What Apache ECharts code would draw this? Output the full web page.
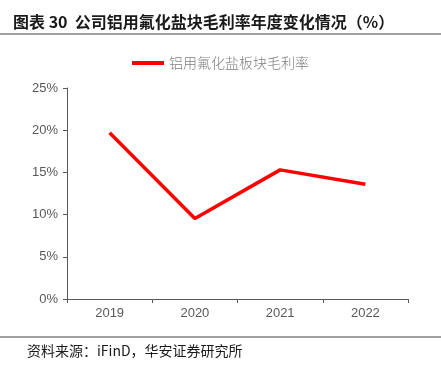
<!DOCTYPE html>
<html>
<head>
<meta charset="utf-8">
<script src="https://cdn.jsdelivr.net/npm/echarts@6/dist/echarts.min.js"></script>
<style>
  html, body { margin: 0; padding: 0; background: #fff; }
  #main { width: 441px; height: 368px; }
</style>
</head>
<body>
<div id="main"></div>
<script>
var years = ["2019", "2020", "2021", "2022"];
var grossMargin = [19.7, 9.55, 15.3, 13.6];
var seriesName = "铝用氟化盐板块毛利率";
var yTicks = [0, 25, 5];

var myChart = echarts.init(document.getElementById("main"));
var cjk = "'Noto Sans CJK SC', sans-serif";
var latin = "'Liberation Sans', Arial, sans-serif";

var option = {
  animation: false,
  backgroundColor: "#fff",
  title: [
    {
      text: "图表 30  公司铝用氟化盐块毛利率年度变化情况（%）",
      left: 13,
      top: 14,
      padding: 0,
      textStyle: { fontFamily: cjk, fontSize: 16, fontWeight: "bold", color: "#1a1a1a" }
    },
    {
      text: "资料来源：iFinD，华安证券研究所",
      left: 27,
      top: 344,
      padding: 0,
      textStyle: { fontFamily: cjk, fontSize: 14, fontWeight: "normal", color: "#1a1a1a" }
    }
  ],
  graphic: [
    { type: "line", shape: { x1: 0, y1: 34, x2: 441, y2: 34 }, style: { stroke: "#404040", lineWidth: 1 } },
    { type: "line", shape: { x1: 0, y1: 337, x2: 441, y2: 337 }, style: { stroke: "#404040", lineWidth: 1 } }
  ],
  legend: {
    top: 51,
    left: "center",
    itemWidth: 32,
    itemHeight: 4,
    itemGap: 6,
    icon: "rect",
    textStyle: { fontFamily: cjk, fontSize: 14, color: "#7f7f7f", fontWeight: 300 },
    data: [seriesName]
  },
  grid: { left: 67, right: 33, top: 88, bottom: 69 },
  xAxis: {
    type: "category",
    data: years,
    boundaryGap: true,
    axisLine: { lineStyle: { color: "#595959", width: 1 } },
    axisTick: { show: true, length: 4, lineStyle: { color: "#595959" } },
    axisLabel: { fontFamily: latin, fontSize: 13, color: "#595959", margin: 8 }
  },
  yAxis: {
    type: "value",
    min: yTicks[0],
    max: yTicks[1],
    interval: yTicks[2],
    axisLine: { show: true, lineStyle: { color: "#595959", width: 1 } },
    axisTick: { show: true, length: 4, lineStyle: { color: "#595959" } },
    splitLine: { show: false },
    axisLabel: {
      fontFamily: latin, fontSize: 13, color: "#595959", margin: 9,
      formatter: function (v) { return v + "%"; }
    }
  },
  series: [
    {
      name: seriesName,
      type: "line",
      data: grossMargin,
      symbol: "none",
      lineStyle: { color: "#ff0000", width: 3.5 },
      itemStyle: { color: "#ff0000" }
    }
  ]
};

myChart.setOption(option);
</script>
</body>
</html>
